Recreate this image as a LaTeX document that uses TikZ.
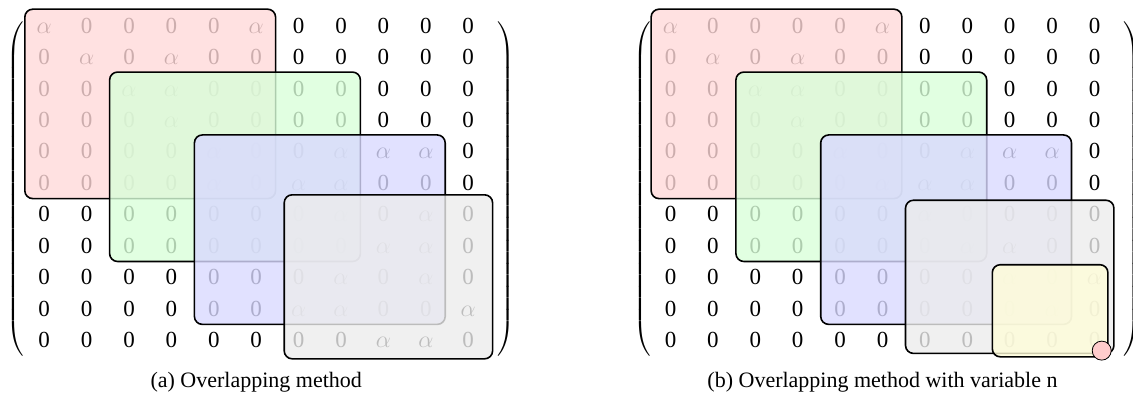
\documentclass[tikz,border=0pt]{standalone}
\usepackage{fontspec}
\setmainfont{Liberation Serif}
\usetikzlibrary{matrix,fit,positioning}

\newcommand{\al}{$\alpha$}

\tikzset{
  cell/.style={minimum width=19pt, minimum height=15.72pt, inner sep=0pt,
    text height=8.6pt, text depth=0.7pt, font=\fontsize{11.5}{13}\selectfont},
  mat/.style={matrix of nodes, nodes={cell}, column sep=2.2pt, row sep=0pt,
    inner sep=0pt, left delimiter=(, right delimiter=)},
  every delimiter/.style={yscale=0.96},
  every left delimiter/.style={xshift=1pt},
  every right delimiter/.style={xshift=3.5pt},
  hl/.style={draw=black, thick, rounded corners=4pt, fill opacity=0.8, inner sep=0pt},
  captext/.style={inner sep=0pt, font=\fontsize{11}{13}\selectfont},
  knob/.style={circle, draw=black, fill=red!20, minimum size=9.5pt, inner sep=0pt}
}

\begin{document}
\begin{tikzpicture}
\useasboundingbox (0,0) rectangle (566.5pt,-197.5pt);

% (a) overlapping
\matrix (ma) [mat] at (128.1pt,-91.25pt) {
\al & 0 & 0 & 0 & 0 & \al & 0 & 0 & 0 & 0 & 0 \\
0 & \al & 0 & \al & 0 & 0 & 0 & 0 & 0 & 0 & 0 \\
0 & 0 & \al & \al & 0 & 0 & 0 & 0 & 0 & 0 & 0 \\
0 & 0 & 0 & \al & 0 & 0 & 0 & 0 & 0 & 0 & 0 \\
0 & 0 & 0 & 0 & \al & 0 & 0 & \al & \al & \al & 0 \\
0 & 0 & 0 & 0 & \al & 0 & \al & \al & 0 & 0 & 0 \\
0 & 0 & 0 & 0 & 0 & 0 & 0 & \al & 0 & \al & 0 \\
0 & 0 & 0 & 0 & 0 & 0 & 0 & 0 & \al & \al & 0 \\
0 & 0 & 0 & 0 & 0 & 0 & 0 & \al & 0 & \al & 0 \\
0 & 0 & 0 & 0 & 0 & 0 & \al & \al & 0 & 0 & \al \\
0 & 0 & 0 & 0 & 0 & 0 & 0 & 0 & \al & \al & 0 \\
};
\node[hl, fill=red!15, fit=(ma-1-1)(ma-6-6)] (ra) {};
\node[hl, fill=green!15, fit=(ma-3-3)(ma-8-8)] (ga) {};
\node[hl, fill=blue!15, fit=(ma-5-5)(ma-10-10)] (ba) {};
\node[hl, fill=gray!15, fit=(ma-7-7)(ma-11-11), xshift=2.5pt, inner ysep=1.5pt] (wa) {};
\node[captext, below=8pt of ma] (capa) {(a) Overlapping method};

% (b) overlapping, variable n
\matrix (mb) [mat] at (441.25pt,-91.25pt) {
\al & 0 & 0 & 0 & 0 & \al & 0 & 0 & 0 & 0 & 0 \\
0 & \al & 0 & \al & 0 & 0 & 0 & 0 & 0 & 0 & 0 \\
0 & 0 & \al & \al & 0 & 0 & 0 & 0 & 0 & 0 & 0 \\
0 & 0 & 0 & \al & 0 & 0 & 0 & 0 & 0 & 0 & 0 \\
0 & 0 & 0 & 0 & \al & 0 & 0 & \al & \al & \al & 0 \\
0 & 0 & 0 & 0 & 0 & \al & \al & \al & 0 & 0 & 0 \\
0 & 0 & 0 & 0 & 0 & 0 & \al & 0 & 0 & 0 & 0 \\
0 & 0 & 0 & 0 & 0 & 0 & 0 & \al & \al & 0 & 0 \\
0 & 0 & 0 & 0 & 0 & 0 & 0 & 0 & \al & 0 & \al \\
0 & 0 & 0 & 0 & 0 & 0 & 0 & 0 & 0 & \al & 0 \\
0 & 0 & 0 & 0 & 0 & 0 & 0 & 0 & 0 & 0 & 0 \\
};
\node[hl, fill=red!15, fit=(mb-1-1)(mb-6-6)] (rb) {};
\node[hl, fill=green!15, fit=(mb-3-3)(mb-8-8)] (gb) {};
\node[hl, fill=blue!15, fit=(mb-5-5)(mb-10-10)] (bb) {};
\node[hl, fill=gray!15, fit=(mb-7-7)(mb-11-11), inner ysep=-1.2pt] (wb) {};
\node[hl, fill=yellow!15, fit=(mb-9-9)(mb-11-11), inner xsep=-2pt, inner ysep=-0.75pt, xshift=-1pt, yshift=-1.25pt] (yb) {};
\node[knob, anchor=south east] (nb) at (yb.south east) {};
\node[captext, below=8pt of mb] (capb) {(b) Overlapping method with variable n};
\end{tikzpicture}
\end{document}
